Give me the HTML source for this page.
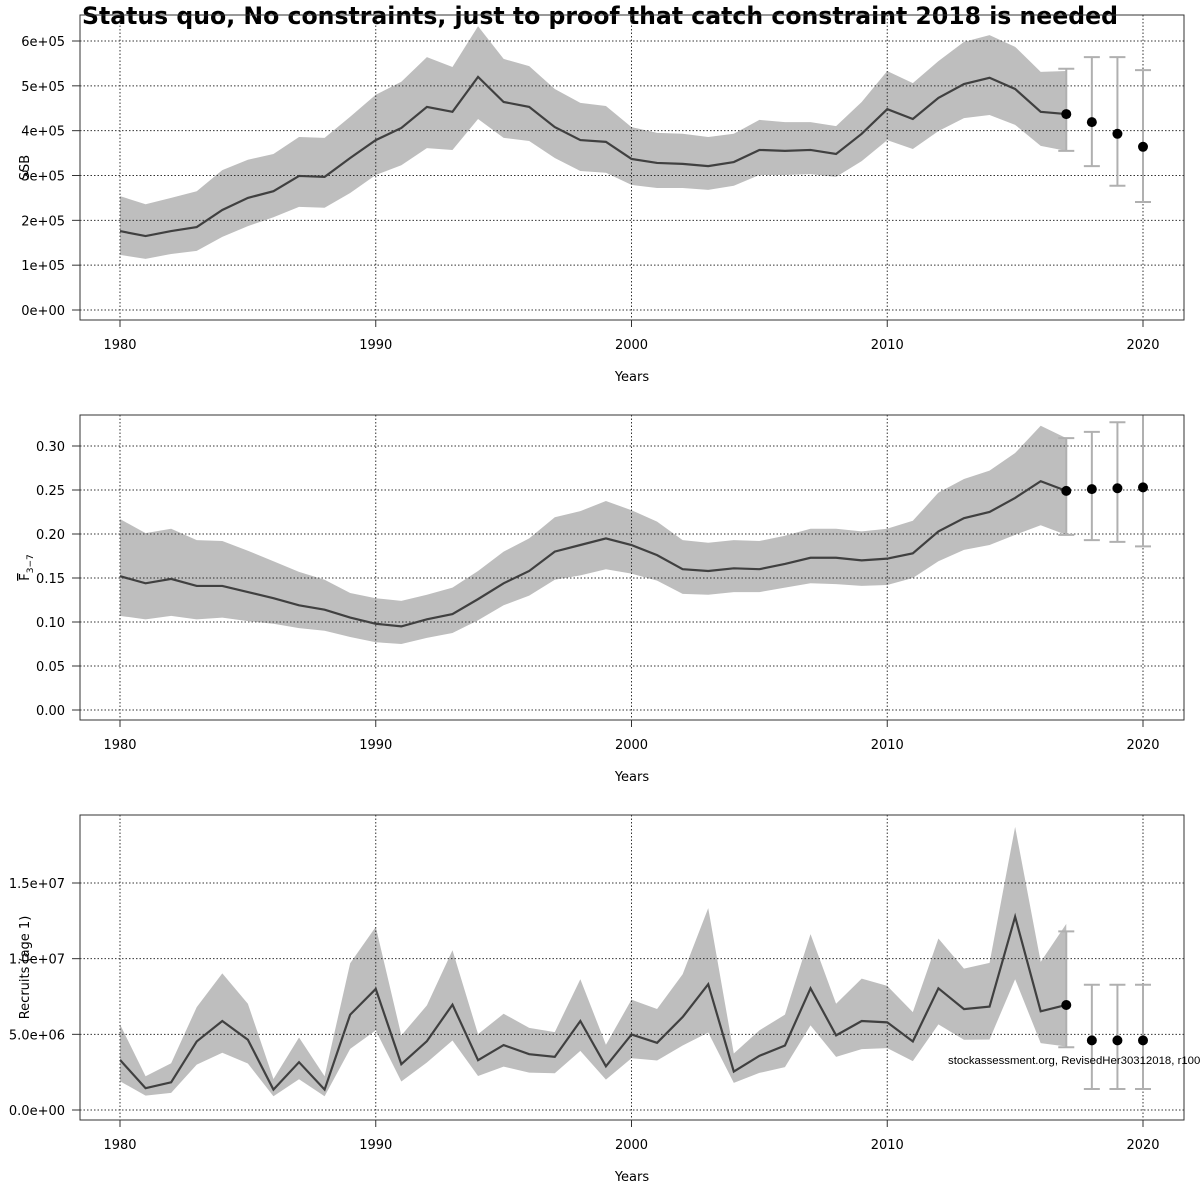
<!DOCTYPE html>
<html><head><meta charset="utf-8"><style>
body{margin:0;background:#fff}
svg{display:block;font-family:"DejaVu Sans","Liberation Sans",sans-serif}
</style></head><body>
<svg id="chart" width="1200" height="1200" viewBox="0 0 1200 1200" xmlns="http://www.w3.org/2000/svg">
<rect width="1200" height="1200" fill="#fff"/>
<text x="82" y="24" font-size="24" font-weight="bold" fill="#000" textLength="1036" lengthAdjust="spacingAndGlyphs">Status quo, No constraints, just to proof that catch constraint 2018 is needed</text>
</svg>
<script>
const years = [1980,1981,1982,1983,1984,1985,1986,1987,1988,1989,1990,1991,1992,1993,1994,1995,1996,1997,1998,1999,2000,2001,2002,2003,2004,2005,2006,2007,2008,2009,2010,2011,2012,2013,2014,2015,2016,2017];
const forecastYears = [2017,2018,2019,2020];
const xTicks = [1980,1990,2000,2010,2020];

const ssbMid = [1.76,1.65,1.76,1.85,2.23,2.5,2.65,2.99,2.97,3.39,3.79,4.06,4.53,4.42,5.2,4.64,4.53,4.08,3.79,3.75,3.37,3.28,3.26,3.21,3.30,3.57,3.55,3.57,3.48,3.93,4.48,4.26,4.73,5.04,5.18,4.93,4.42,4.37];
const ssbHi = [2.54,2.36,2.5,2.65,3.12,3.35,3.48,3.86,3.84,4.31,4.8,5.09,5.64,5.42,6.33,5.6,5.44,4.93,4.62,4.55,4.08,3.95,3.93,3.86,3.93,4.24,4.19,4.19,4.1,4.64,5.33,5.06,5.55,5.98,6.13,5.87,5.31,5.33];
const ssbLo = [1.23,1.14,1.25,1.32,1.63,1.87,2.07,2.3,2.28,2.61,3.01,3.23,3.61,3.57,4.26,3.84,3.77,3.39,3.1,3.06,2.79,2.72,2.72,2.68,2.77,3.01,3.01,3.03,2.97,3.32,3.79,3.59,3.99,4.28,4.35,4.13,3.66,3.55];
const ssbFcMid = [4.37,4.19,3.93,3.64];
const ssbFcHi = [5.38,5.64,5.64,5.35];
const ssbFcLo = [3.55,3.21,2.77,2.41];
const ssbTicks = [0,1,2,3,4,5,6];
const ssbTickLabels = ["0e+00","1e+05","2e+05","3e+05","4e+05","5e+05","6e+05"];

const fMid = [0.152,0.144,0.149,0.141,0.141,0.134,0.127,0.119,0.114,0.105,0.098,0.095,0.103,0.109,0.126,0.144,0.158,0.18,0.1875,0.195,0.1875,0.176,0.16,0.158,0.161,0.16,0.166,0.173,0.173,0.17,0.172,0.178,0.203,0.218,0.225,0.241,0.26,0.249];
const fHi = [0.217,0.201,0.206,0.193,0.192,0.181,0.169,0.157,0.148,0.133,0.127,0.124,0.131,0.139,0.158,0.18,0.195,0.219,0.226,0.2375,0.227,0.214,0.193,0.19,0.193,0.192,0.198,0.206,0.206,0.203,0.206,0.215,0.247,0.2625,0.272,0.292,0.323,0.309];
const fLo = [0.107,0.103,0.107,0.103,0.105,0.101,0.098,0.093,0.09,0.083,0.077,0.075,0.082,0.0875,0.102,0.119,0.13,0.148,0.153,0.16,0.155,0.147,0.132,0.131,0.134,0.134,0.139,0.144,0.143,0.141,0.142,0.15,0.169,0.182,0.1875,0.199,0.21,0.199];
const fFcMid = [0.249,0.251,0.252,0.253];
const fFcHi = [0.309,0.316,0.327,0.345];
const fFcLo = [0.199,0.193,0.191,0.186];
const fTicks = [0,0.05,0.1,0.15,0.2,0.25,0.3];
const fTickLabels = ["0.00","0.05","0.10","0.15","0.20","0.25","0.30"];

const recMid = [3.31,1.44,1.83,4.53,5.88,4.64,1.35,3.16,1.35,6.3,8.0,3.03,4.55,6.96,3.29,4.29,3.69,3.51,5.88,2.89,4.99,4.44,6.14,8.31,2.54,3.58,4.26,8.04,4.93,5.88,5.79,4.53,8.04,6.67,6.83,12.77,6.52,6.94];
const recHi = [5.66,2.23,3.09,6.8,9.03,7.02,2.05,4.79,2.23,9.7,12.1,4.93,6.91,10.56,5.01,6.36,5.43,5.15,8.64,4.31,7.29,6.67,8.97,13.34,3.73,5.26,6.3,11.62,7.02,8.68,8.2,6.47,11.33,9.34,9.72,18.71,9.79,12.3];
const recLo = [1.9,0.95,1.13,3.0,3.78,3.07,0.91,2.03,0.91,4.04,5.26,1.88,3.14,4.59,2.25,2.87,2.47,2.43,3.91,2.01,3.42,3.27,4.26,5.12,1.79,2.45,2.83,5.59,3.51,4.02,4.09,3.23,5.66,4.64,4.66,8.64,4.42,4.2];
const recFcMid = [6.94,4.6,4.6,4.6];
const recFcHi = [11.8,8.28,8.28,8.28];
const recFcLo = [4.15,1.39,1.39,1.39];
const recTicks = [0,5,10,15];
const recTickLabels = ["0.0e+00","5.0e+06","1.0e+07","1.5e+07"];

const NS = "http://www.w3.org/2000/svg";
const svg = document.getElementById('chart');
function mk(tag, attrs, parent){
  const e = document.createElementNS(NS, tag);
  for (const k in attrs) e.setAttribute(k, attrs[k]);
  (parent||svg).appendChild(e);
  return e;
}
const L = 80, R = 1184;
function xScale(y){ return 120 + (y - 1980) * (1143 - 120) / 40; }

function panel(key, top, y0, y1, vmin, vmax, ticks, labels, mid, hi, lo, fm, fh, fl, ylabel, isF){
  const bottom = top + 305;
  const ys = v => y0 + (v - vmin) * (y1 - y0) / (vmax - vmin);
  const g = mk('g', {});
  
  
  const clip = mk('clipPath', {id: 'clip-' + key}, g);
  mk('rect', {x: L, y: top, width: R - L, height: 305}, clip);
  let pts = years.map((y,i)=> xScale(y)+','+ys(hi[i]));
  pts = pts.concat(years.slice().reverse().map((y,j)=>{const i=years.length-1-j; return xScale(y)+','+ys(lo[i]);}));
  const band = mk('polygon', {points: pts.join(' '), fill: '#bebebe', stroke: 'none', 'clip-path': 'url(#clip-'+key+')'}, g);
  
  
  ticks.forEach(t=>{
    const gl = mk('line', {x1: L, x2: R, y1: ys(t), y2: ys(t), stroke: '#333', 'stroke-width': 1, 'stroke-dasharray': '1.5,2'}, g);
    
    
  });
  xTicks.forEach(t=>{
    const gl = mk('line', {x1: xScale(t), x2: xScale(t), y1: top, y2: bottom, stroke: '#333', 'stroke-width': 1, 'stroke-dasharray': '1.5,2'}, g);
    
    
  });
  const line = mk('polyline', {points: years.map((y,i)=>xScale(y)+','+ys(mid[i])).join(' '), fill: 'none', stroke: '#404040', 'stroke-width': 2.2, 'clip-path': 'url(#clip-'+key+')'}, g);
  
  
  forecastYears.forEach((y,i)=>{
    const x = xScale(y);
    const eb = mk('path', {d: `M${x},${ys(fh[i])}V${ys(fl[i])}M${x-8},${ys(fh[i])}H${x+8}M${x-8},${ys(fl[i])}H${x+8}`, stroke: '#b0b0b0', 'stroke-width': 2, fill: 'none', 'clip-path': 'url(#clip-'+key+')'}, g);
    
    
    const pt = mk('circle', {cx: x, cy: ys(fm[i]), r: 5, fill: '#000'}, g);
    
    
  });
  const fr = mk('rect', {x: L, y: top, width: R - L, height: 305, fill: 'none', stroke: '#333', 'stroke-width': 1}, g);
  
  
  ticks.forEach((t,i)=>{
    mk('line', {x1: 72, x2: L, y1: ys(t), y2: ys(t), stroke: '#333'}, g);
    const tl = mk('text', {x: 65, y: ys(t) + 5, 'text-anchor': 'end', 'font-size': 13, fill: '#000'}, g);
    tl.textContent = labels[i];
    
    
  });
  xTicks.forEach(t=>{
    mk('line', {x1: xScale(t), x2: xScale(t), y1: bottom, y2: bottom + 7, stroke: '#333'}, g);
    const tl = mk('text', {x: xScale(t), y: bottom + 29, 'text-anchor': 'middle', 'font-size': 13, fill: '#000'}, g);
    tl.textContent = t;
    
    
  });
  const xt = mk('text', {x: 632, y: bottom + 61, 'text-anchor': 'middle', 'font-size': 13, fill: '#000'}, g);
  xt.textContent = 'Years';
  
  
  const cy = (top + bottom) / 2;
  const yt = mk('text', {x: 29, y: cy, 'text-anchor': 'middle', 'font-size': 13, fill: '#000', transform: `rotate(-90 29 ${cy})`}, g);
  
  
  if (isF) {
    yt.innerHTML = '<tspan text-decoration="overline">F</tspan><tspan font-size="9" dy="4">3−7</tspan>';
  } else {
    yt.textContent = ylabel;
  }
}
panel('ssb', 15, 310, 41, 0, 6, ssbTicks, ssbTickLabels, ssbMid, ssbHi, ssbLo, ssbFcMid, ssbFcHi, ssbFcLo, 'SSB', false);
panel('fbar', 415, 710, 446, 0, 0.30, fTicks, fTickLabels, fMid, fHi, fLo, fFcMid, fFcHi, fFcLo, 'F', true);
panel('recruits', 815, 1110, 883, 0, 15, recTicks, recTickLabels, recMid, recHi, recLo, recFcMid, recFcHi, recFcLo, 'Recruits (age 1)', false);

const foot = mk('text', {x: 948, y: 1064, 'font-size': 11, fill: '#000', 'font-family': 'Liberation Sans Narrow, Liberation Sans, sans-serif', textLength: 265, lengthAdjust: 'spacingAndGlyphs'});
foot.textContent = 'stockassessment.org, RevisedHer30312018, r10051';


</script>
</body></html>
